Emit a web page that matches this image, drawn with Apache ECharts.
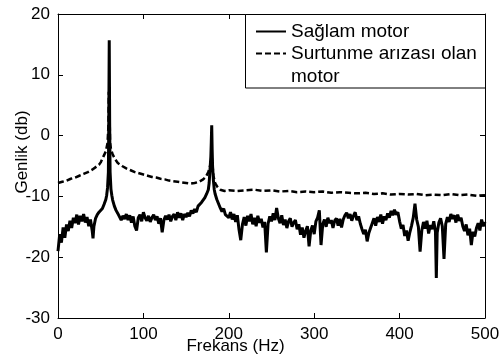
<!DOCTYPE html>
<html>
<head>
<meta charset="utf-8">
<script src="https://cdn.jsdelivr.net/npm/echarts@6/dist/echarts.min.js"></script>
<style>html,body{margin:0;padding:0;background:#fff}#c{width:501px;height:364px}</style>
</head>
<body>
<div id="c"></div>
<script>
// Tick labels
const xTicks = [0, 100, 200, 300, 400, 500];
const yTicks = [-30, -20, -10, 0, 10, 20];
const seriesNames = ['Sağlam motor', 'Surtunme arızası olan motor'];

// Healthy motor (solid)
const freqHealthy = [0,2,4,6,8,10,12,14,16,18,20,22,24,26,28,30,32,34,36,38,40,41,42,44,46,48,50,52,54,56,57,58,59,59.5,60,60.5,61,62,63,64,66,68,70,72,74,76,78,80,82,84,86,88,90,92,94,96,98,100,102,104,106,108,110,112,114,116,118,120,122,124,126,128,130,132,134,136,138,140,142,144,146,148,150,152,154,156,158,160,162,164,166,168,170,172,174,176,177,178,179,179.5,180,180.5,181,182,183,184,186,188,190,192,194,196,198,
200,202,204,206,208,210,212,214,216,218,220,222,224,226,228,230,232,234,236,238,240,242,244,246,248,250,252,254,256,258,260,262,264,266,268,270,272,274,276,278,280,282,284,286,288,290,292,294,296,298,300,302,304,306,308,310,312,314,316,318,320,322,324,326,328,330,332,334,336,338,340,342,344,346,348,350,352,354,356,358,360,362,364,366,368,370,372,374,376,378,380,382,384,386,388,390,392,394,396,398,400,402,404,406,408,410,412,414,416,418,420,422,424,426,428,430,432,434,436,438,440,442,443,444,446,448,450,452,454,456,458,460,462,464,466,468,470,472,474,476,478,480,482,484,486,488,490,492,494,496,498,500];
const ampHealthy = [-19.0,-16.2,-17.6,-15.1,-16.8,-14.6,-15.7,-14.0,-15.2,-13.5,-14.4,-13.0,-14.6,-13.2,-14.1,-12.9,-14.3,-13.4,-14.9,-13.8,-15.6,-16.9,-15.0,-13.6,-13.0,-12.6,-12.9,-12.0,-11.3,-10.5,-9.8,-8.6,-6.0,3.0,15.7,2.0,-6.0,-8.8,-9.8,-10.6,-11.6,-12.3,-12.8,-13.1,-13.9,-13.2,-13.7,-12.9,-13.9,-13.1,-14.3,-13.3,-14.9,-15.6,-13.5,-13.0,-14.1,-12.6,-13.5,-14.0,-13.2,-14.2,-13.5,-13.0,-13.9,-13.3,-14.5,-13.6,-15.9,-13.9,-13.2,-13.8,-13.0,-14.1,-13.3,-12.9,-13.9,-12.6,-13.5,-12.8,-13.9,-12.9,-13.4,-12.7,-13.3,-12.3,-12.8,-12.1,-12.6,-11.6,-11.9,-11.0,-10.8,-10.2,-9.6,-8.9,-7.8,-5.6,-3.4,-1.0,1.7,-2.2,-5.0,-7.4,-8.9,-9.6,-10.5,-11.2,-11.9,-12.5,-12.0,-13.0,-12.7,
-13.5,-12.6,-13.8,-12.9,-14.2,-13.1,-15.5,-17.2,-14.6,-13.4,-14.8,-13.2,-14.1,-12.9,-14.6,-13.5,-14.9,-13.2,-14.3,-13.7,-15.1,-14.2,-19.2,-14.5,-13.3,-14.1,-12.8,-13.9,-11.9,-13.6,-14.4,-13.1,-14.7,-13.8,-15.2,-14.1,-13.6,-15.0,-14.3,-13.9,-15.4,-14.6,-16.3,-15.1,-16.8,-15.7,-14.9,-18.2,-15.6,-14.8,-16.2,-14.1,-13.5,-12.3,-18.0,-14.6,-13.8,-15.0,-13.5,-14.4,-13.9,-15.2,-14.0,-13.6,-14.8,-13.7,-15.1,-13.8,-13.1,-12.7,-13.6,-12.9,-14.0,-13.2,-12.6,-13.9,-13.3,-14.5,-15.4,-16.2,-15.5,-17.4,-16.0,-15.2,-14.4,-13.6,-14.8,-13.4,-14.2,-13.0,-14.5,-13.3,-13.9,-12.8,-13.5,-12.4,-13.1,-12.2,-13.0,-12.6,-14.1,-15.3,-14.7,-16.5,-15.6,-17.3,-15.9,-14.8,-13.5,-11.2,-13.8,-15.0,-19.1,-15.6,-14.2,-15.3,-14.0,-16.1,-14.7,-15.4,-14.1,-15.8,-23.4,-16.0,-14.3,-13.6,-14.9,-20.3,-14.5,-13.4,-14.2,-12.9,-13.7,-13.1,-14.3,-13.0,-14.0,-13.5,-14.9,-15.7,-14.6,-16.4,-15.3,-18.0,-15.8,-16.6,-15.2,-14.4,-15.6,-13.8,-14.9,-14.2];

// Friction-fault motor (dashed)
const freqFault = [0,5,10,15,20,25,30,35,40,45,48,50,53,56,58,59,59.5,60,60.5,61,62,64,67,70,75,80,85,90,95,100,105,110,115,120,125,130,135,140,145,150,155,160,165,170,173,176,178,179,180,181,182,184,187,190,195,200,210,220,230,240,250,260,270,280,290,300,310,320,330,340,350,360,370,380,390,400,410,420,430,440,450,460,470,480,490,500];
const ampFault = [-7.8,-7.6,-7.4,-7.1,-6.9,-6.6,-6.3,-6.0,-5.6,-5.1,-4.8,-4.4,-3.5,-2.6,-1.2,1.5,7.2,6.5,2.5,-1.2,-2.2,-3.1,-3.9,-4.5,-5.0,-5.4,-5.7,-6.0,-6.2,-6.4,-6.6,-6.8,-6.9,-7.1,-7.2,-7.4,-7.5,-7.6,-7.7,-7.8,-7.9,-7.8,-7.6,-7.2,-6.8,-6.0,-5.0,-4.2,-3.5,-5.0,-6.6,-7.8,-8.5,-8.9,-9.1,-9.0,-9.1,-9.0,-8.9,-9.1,-9.0,-9.2,-9.1,-9.3,-9.2,-9.3,-9.2,-9.4,-9.3,-9.4,-9.5,-9.4,-9.6,-9.5,-9.7,-9.6,-9.7,-9.6,-9.8,-9.7,-9.8,-9.6,-9.8,-9.7,-9.9,-9.8];

const healthyData = freqHealthy.map((f, i) => [f, ampHealthy[i]]);
const faultData = freqFault.map((f, i) => [f, ampFault[i]]);

const FONT = 'Liberation Sans';
const chart = echarts.init(document.getElementById('c'), null, {renderer: 'canvas'});
const tickCommon = {show: true, inside: true, length: 5, lineStyle: {color: '#000', width: 1}};
const lineCommon = {show: true, onZero: false, lineStyle: {color: '#000', width: 1}};

chart.setOption({
  animation: false,
  backgroundColor: '#fff',
  grid: {left: 58, top: 14, right: 16, bottom: 46, containLabel: false, outerBoundsMode: 'none'},
  graphic: [{
    type: 'rect', z: 5, silent: true,
    shape: {x: 245.5, y: 14.5, width: 240, height: 73.5},
    style: {fill: '#fff', stroke: '#000', lineWidth: 1}
  }],
  legend: {
    orient: 'vertical', left: 255, top: 19, padding: 0, z: 6,
    itemWidth: 30, itemHeight: 10, itemGap: -24,
    itemStyle: {opacity: 0},
    textStyle: {fontFamily: FONT, fontSize: 19, color: '#000', lineHeight: 23},
    data: [{name: seriesNames[0]}, {name: seriesNames[1]}],
    formatter: function (n) { return n === seriesNames[1] ? '\nSurtunme arızası olan\nmotor' : n; }
  },
  xAxis: [{
    type: 'value', position: 'bottom', min: 0, max: 500, interval: 100,
    axisLine: lineCommon, axisTick: tickCommon, splitLine: {show: false},
    axisLabel: {color: '#000', fontFamily: FONT, fontSize: 17, margin: 8,
      formatter: v => xTicks.includes(v) ? String(v) : ''},
    name: 'Frekans (Hz)', nameLocation: 'middle', nameGap: 20, nameMoveOverlap: false,
    nameTextStyle: {color: '#000', fontFamily: FONT, fontSize: 17, padding: [0, 72, 0, 0]}
  }, {
    type: 'value', position: 'top', min: 0, max: 500, interval: 100,
    axisLine: lineCommon, axisTick: tickCommon, axisLabel: {show: false}, splitLine: {show: false}
  }],
  yAxis: [{
    type: 'value', position: 'left', min: -30, max: 20, interval: 10,
    axisLine: lineCommon, axisTick: tickCommon, splitLine: {show: false},
    axisLabel: {color: '#000', fontFamily: FONT, fontSize: 17, margin: 8,
      formatter: v => yTicks.includes(v) ? String(v) : ''},
    name: 'Genlik (db)', nameLocation: 'middle', nameGap: 27, nameMoveOverlap: false,
    nameTextStyle: {color: '#000', fontFamily: FONT, fontSize: 17, padding: [0, 0, 0, 28]}
  }, {
    type: 'value', position: 'right', min: -30, max: 20, interval: 10,
    axisLine: lineCommon, axisTick: tickCommon, axisLabel: {show: false}, splitLine: {show: false}
  }],
  series: [{
    name: seriesNames[0], type: 'line', data: healthyData, symbol: 'none',
    lineStyle: {color: '#000', width: 3, type: 'solid'}, itemStyle: {color: '#000'}, z: 3
  }, {
    name: seriesNames[1], type: 'line', data: faultData, symbol: 'none',
    lineStyle: {color: '#000', width: 2.5, type: [6, 3]}, itemStyle: {color: '#000'}, z: 2
  }]
});
</script>
</body>
</html>
